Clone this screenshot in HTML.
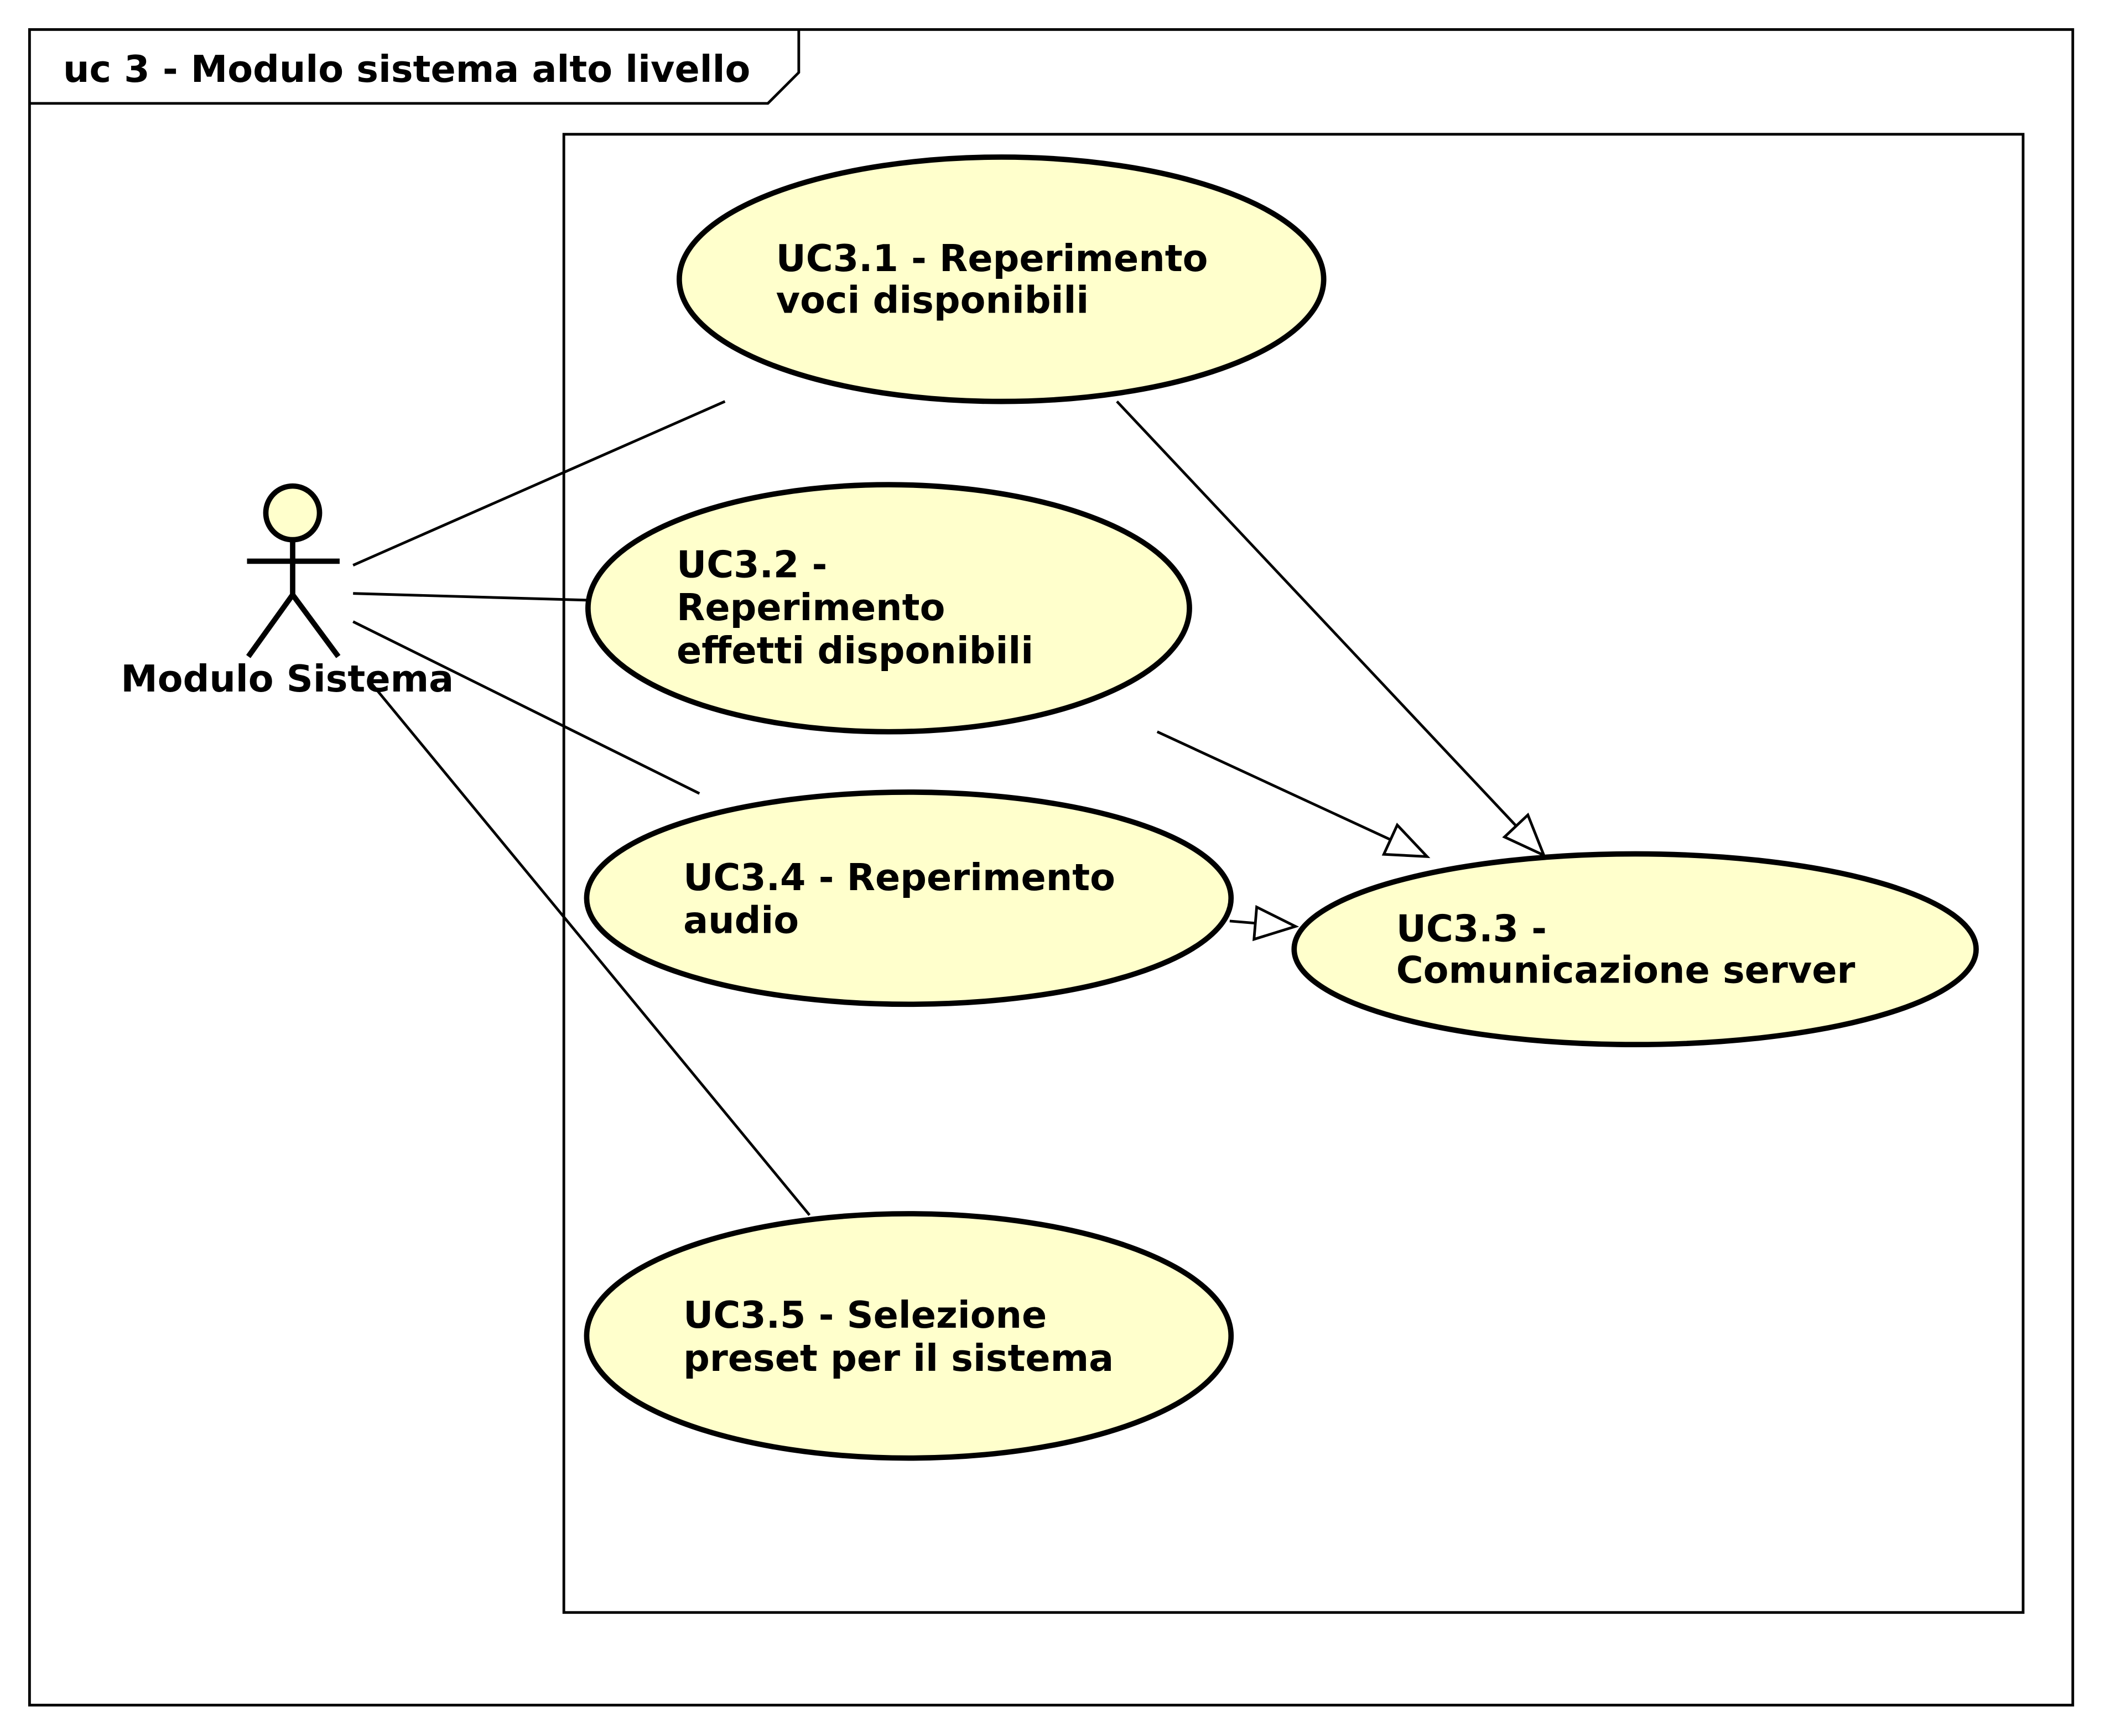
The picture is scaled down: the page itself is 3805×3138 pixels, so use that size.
<!DOCTYPE html>
<html><head><meta charset="utf-8"><style>
html,body{margin:0;padding:0;background:#fff;}
svg{display:block;}
text{font-family:"DejaVu Sans","Liberation Sans",sans-serif;font-weight:bold;font-size:27.5px;fill:#000;}
</style></head><body>
<svg width="3805" height="3138" viewBox="0 0 1568 1293" preserveAspectRatio="none" xmlns="http://www.w3.org/2000/svg">
<rect x="0" y="0" width="1568" height="1293" fill="#fff"/>
<rect x="22" y="22" width="1522" height="1248" fill="none" stroke="#000" stroke-width="2"/>
<path d="M22,77 L572,77 L595,54 L595,22" fill="none" stroke="#000" stroke-width="2"/>
<text x="47" y="61">uc 3 - Modulo sistema alto livello</text>
<rect x="420" y="100" width="1087" height="1101" fill="none" stroke="#000" stroke-width="2"/>

<g fill="#FFFFCC" stroke="#000" stroke-width="4">
<ellipse cx="746" cy="208" rx="240" ry="91"/>
<ellipse cx="662" cy="453" rx="224" ry="92"/>
<ellipse cx="677" cy="669" rx="240" ry="79"/>
<ellipse cx="1218" cy="707" rx="254" ry="71"/>
<ellipse cx="677" cy="995" rx="240" ry="91"/>
</g>
<text x="578" y="202">UC3.1 - Reperimento</text>
<text x="578" y="233">voci disponibili</text>
<text x="504" y="430">UC3.2 -</text>
<text x="504" y="462">Reperimento</text>
<text x="504" y="494">effetti disponibili</text>
<text x="509" y="663">UC3.4 - Reperimento</text>
<text x="509" y="695">audio</text>
<text x="1040" y="701">UC3.3 -</text>
<text x="1040" y="732">Comunicazione server</text>
<text x="509" y="989">UC3.5 - Selezione</text>
<text x="509" y="1021">preset per il sistema</text>

<g stroke="#000" stroke-width="4" fill="none">
<circle cx="218" cy="382" r="20" fill="#FFFFCC"/>
<line x1="218" y1="402" x2="218" y2="443"/>
<line x1="184" y1="418" x2="253" y2="418"/>
<line x1="218" y1="443" x2="185" y2="489"/>
<line x1="218" y1="443" x2="252" y2="489"/>
</g>
<text x="90" y="515">Modulo Sistema</text>

<g stroke="#000" stroke-width="2" fill="none">
<line x1="263" y1="421" x2="540" y2="299"/>
<line x1="263" y1="442" x2="437" y2="447"/>
<line x1="263" y1="463" x2="521" y2="591"/>
<line x1="275" y1="507" x2="603" y2="905"/>
<line x1="832" y1="299" x2="1129.4" y2="615.2"/>
<line x1="862" y1="545" x2="1035.8" y2="625.4"/>
<line x1="916" y1="686" x2="935.1" y2="687.6"/>
</g>
<g stroke="#000" stroke-width="2" fill="#fff">
<polygon points="1150,637 1120.7,623.4 1138.1,607.0"/>
<polygon points="1063,638 1030.8,636.3 1040.8,614.5"/>
<polygon points="965,690 934.1,699.6 936.1,675.6"/>
</g>
</svg>
</body></html>
